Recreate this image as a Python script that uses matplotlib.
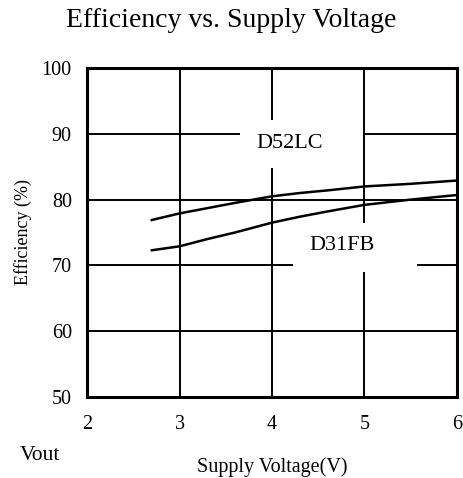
import matplotlib
matplotlib.use("Agg")
import matplotlib.pyplot as plt
from matplotlib.patches import Rectangle

plt.rcParams['font.family'] = ['Liberation Serif', 'DejaVu Serif']

# Supply voltage (V) and efficiency (%) for the two converters
voltage = [2.7, 3.0, 3.3, 3.6, 4.0, 4.3, 4.6, 5.0, 5.5, 6.0]
eff_d52lc = [76.9, 77.9, 78.7, 79.5, 80.5, 81.0, 81.4, 82.0, 82.4, 82.9]
eff_d31fb = [72.3, 72.9, 74.0, 75.0, 76.5, 77.4, 78.2, 79.2, 80.0, 80.7]

x_ticks = [2, 3, 4, 5, 6]
y_ticks = [50, 60, 70, 80, 90, 100]

fig = plt.figure(figsize=(4.63, 4.78), dpi=100)
ax = fig.add_axes([0.188, 0.1695, 0.799, 0.6882])

ax.plot(voltage, eff_d52lc, color='black', lw=1.8, zorder=3)
ax.plot(voltage, eff_d31fb, color='black', lw=1.8, zorder=3)

ax.set_xlim(2, 6)
ax.set_ylim(50, 100)
ax.set_xticks(x_ticks)
ax.set_yticks(y_ticks)
ax.tick_params(length=0, labelsize=14.5)
ax.tick_params(axis='y', pad=11)
ax.tick_params(axis='x', pad=13)
ax.grid(True, color='black', lw=1.4, zorder=1)
ax.set_axisbelow(True)
for s in ax.spines.values():
    s.set_linewidth(2.2)
    s.set_zorder(5)

# Curve names on white patches that break the grid
ax.add_patch(Rectangle((3.654, 84.8), 1.33, 7.3, facecolor='white', edgecolor='none', zorder=2))
ax.text(4.195, 88.6, 'D52LC', ha='center', va='center', fontsize=16, zorder=4)
ax.add_patch(Rectangle((4.224, 69.04), 1.34, 7.4, facecolor='white', edgecolor='none', zorder=2))
ax.text(4.762, 73.0, 'D31FB', ha='center', va='center', fontsize=16, zorder=4)

fig.text(0.5, 0.957, 'Efficiency vs. Supply Voltage', ha='center', va='center', fontsize=20)
ax.set_ylabel('Efficiency (%)', fontsize=13, labelpad=7)
fig.text(272 / 463, 1 - 467 / 478, 'Supply Voltage(V)', ha='center', va='center', fontsize=14.5)
fig.text(40 / 463, 1 - 456 / 478, 'Vout', ha='center', va='center', fontsize=15.5)

fig.savefig('out.png', dpi=100)
